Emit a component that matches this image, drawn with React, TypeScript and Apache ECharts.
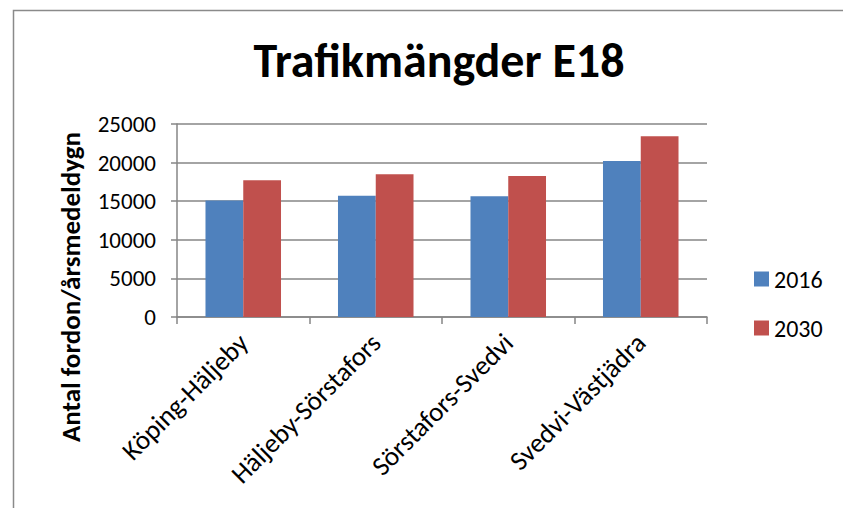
import React, { useEffect, useRef } from "react";
import * as echarts from "echarts";

const categories = ["Köping-Häljeby", "Häljeby-Sörstafors", "Sörstafors-Svedvi", "Svedvi-Västjädra"];
const values2016 = [15100, 15700, 15650, 20200];
const values2030 = [17700, 18500, 18250, 23400];
const seriesNames = ["2016", "2030"];
const yAxisTitle = "Antal fordon/årsmedeldygn";
const chartTitle = "Trafikmängder E18";

const FONT = "Carlito, Calibri, Lato, 'Open Sans', sans-serif";

export default function App() {
  const ref = useRef<HTMLDivElement>(null);
  useEffect(() => {
    if (!ref.current) return;
    const chart = echarts.init(ref.current, undefined, { renderer: "svg" });
    chart.setOption({
      animation: false,
      textStyle: { fontFamily: FONT },
      title: {
        text: chartTitle,
        left: 434,
        textAlign: "center",
        top: 31,
        textStyle: { fontSize: 48, fontWeight: "bold", color: "#000", fontFamily: FONT },
      },
      graphic: [
        {
          type: "rect",
          shape: { x: 13.5, y: 10.5, width: 900, height: 600 },
          style: { fill: "none", stroke: "#8a8a8a", lineWidth: 1.5 },
          silent: true,
        },
        {
          type: "text",
          x: 70,
          y: 287,
          rotation: Math.PI / 2,
          style: {
            text: yAxisTitle,
            fontSize: 27,
            fontWeight: "bold",
            fontFamily: FONT,
            fill: "#000",
            textAlign: "center",
            textVerticalAlign: "middle",
          },
          silent: true,
        },
      ],
      legend: {
        orient: "vertical",
        left: 749,
        top: 261,
        itemWidth: 15,
        itemHeight: 15,
        itemGap: 23,
        icon: "rect",
        textStyle: { fontSize: 24, color: "#000", fontFamily: FONT, lineHeight: 26 },
        data: seriesNames,
      },
      grid: { left: 177, right: 136, top: 124, bottom: 191, containLabel: false },
      xAxis: {
        type: "category",
        data: categories,
        axisLine: { lineStyle: { color: "#868686", width: 1.5 } },
        axisTick: { show: true, alignWithLabel: false, length: 7, lineStyle: { color: "#868686", width: 1.5 } },
        axisLabel: { rotate: 45, fontSize: 27, color: "#000", margin: 21, fontFamily: FONT, interval: 0 },
      },
      yAxis: {
        type: "value",
        min: 0,
        max: 25000,
        interval: 5000,
        axisLine: { show: true, lineStyle: { color: "#868686", width: 1.5 } },
        axisTick: { show: true, length: 6, lineStyle: { color: "#868686", width: 1.5 } },
        axisLabel: {
          fontSize: 23,
          color: "#000",
          margin: 21,
          fontFamily: FONT,
          formatter: (v: number) => String(v),
        },
        splitLine: { lineStyle: { color: "#868686", width: 1.5 } },
      },
      series: [
        {
          name: seriesNames[0],
          type: "bar",
          data: values2016,
          barGap: "0%",
          barCategoryGap: "43%",
          itemStyle: { color: "#4F81BD" },
        },
        {
          name: seriesNames[1],
          type: "bar",
          data: values2030,
          itemStyle: { color: "#C0504D" },
        },
      ],
    });
    return () => chart.dispose();
  }, []);
  return (
    <div
      ref={ref}
      style={{ position: "fixed", left: 0, top: 0, width: 843, height: 508, background: "#fff" }}
    />
  );
}
